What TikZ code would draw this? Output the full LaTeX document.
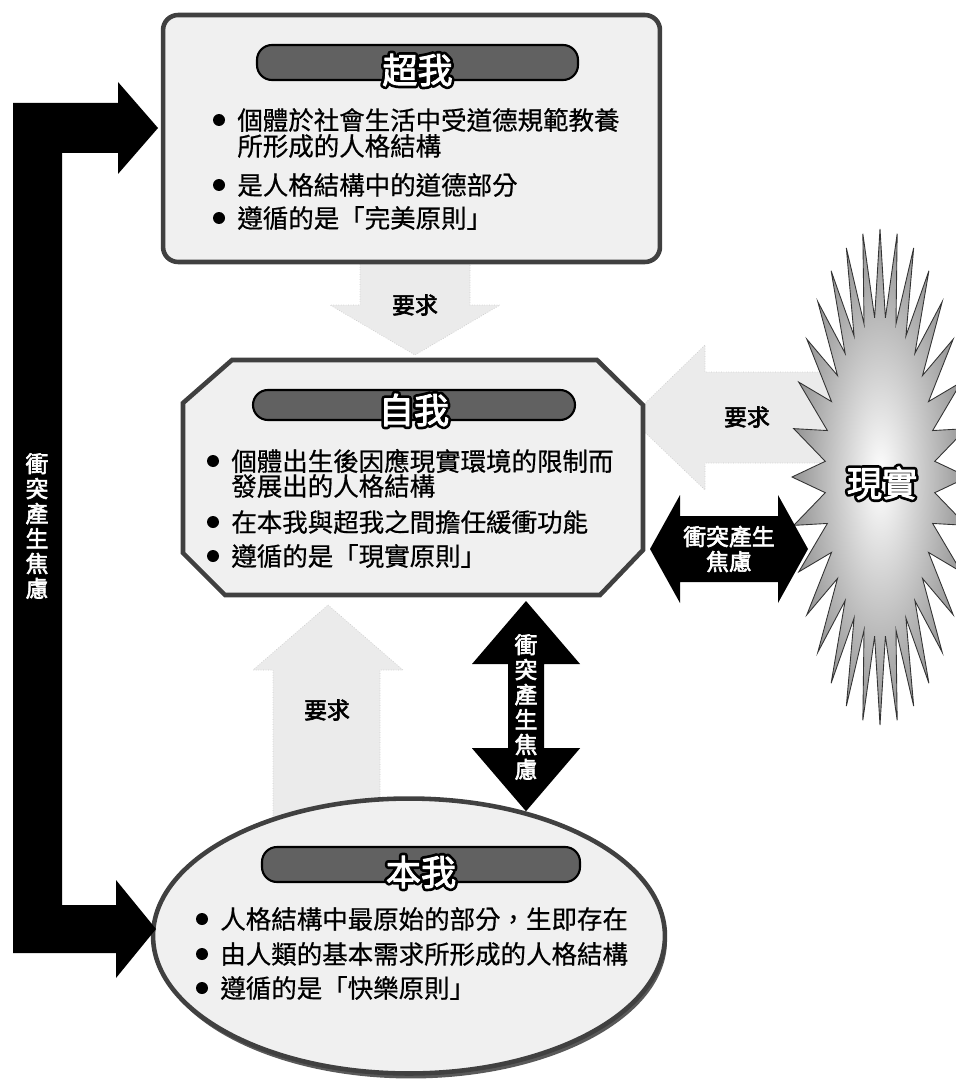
\documentclass[tikz,border=0pt]{standalone}
\usepackage{fontspec}
\usetikzlibrary{shapes.geometric, calc}
\setmainfont{Noto Sans CJK TC}
\newfontfamily\plainFont{Noto Sans CJK TC}
\newfontfamily\bodyFont[FakeBold=0.6]{Noto Sans CJK TC}
\newfontfamily\heavyFont[FakeBold=2.5]{Noto Sans CJK TC}
\definecolor{boxFill}{gray}{0.94}
\definecolor{barFill}{gray}{0.38}
\definecolor{faintFill}{gray}{0.92}
% fat black copy under, heavy white word over it
\newcommand*{\titleWord}[1]{\makebox[0pt][l]{\plainFont\special{pdf:literal direct 2 Tr 3.6 w 1 j 0 0 0 RG}#1\special{pdf:literal direct 0 Tr}}\textcolor{white}{#1}}
\newcommand*{\bulletLine}[4]{% name, x of dot, y, text
    \node[bulletdot] (#1-dot) at (#2,#3) {};
    \node[body] (#1) at (#2+18,#3) {#4};
}
\newcommand*{\moreLine}[4]{% name, x of dot, y, text (second line of an item, no dot)
    \node[body] (#1) at (#2+18,#3) {#4};
}
\newcommand*{\titleBar}[6]{% name, xstart, ystart, xend, yend, title
    \node[titlebar, minimum width={(#4-#2)*0.02cm}, minimum height={(#5-#3)*0.02cm}] (#1-bar) at ({(#2+#4)/2},{(#3+#5)/2}) {};
    \node[titleword] (#1) at ({(#2+#4)/2},{#5-10}) {\titleWord{#6}};
}
\tikzset{
    body/.style={anchor=west, inner sep=0pt, font=\bodyFont\fontsize{14.5}{16}\selectfont},
    bulletdot/.style={circle, fill=black, inner sep=0pt, minimum size=0.24cm},
    titlebar/.style={rectangle, fill=barFill, draw=black, line width=1.2pt, rounded corners=0.3cm, inner sep=0pt},
    titleword/.style={inner sep=0pt, font=\heavyFont\fontsize{20}{22}\selectfont},
    psyche/.style={fill=boxFill, draw=black!75, line width=2.6pt, inner sep=0pt},
    faint/.style={fill=faintFill, draw=gray!40, densely dotted},
    ask/.style={inner sep=0pt, font=\heavyFont\fontsize{13}{15}\selectfont},
    clash/.style={inner sep=0pt, text=white, align=center, font=\heavyFont\fontsize{13}{14.2}\selectfont},
    starburst/.style={inner color=white, outer color=gray!85, draw=black!80, line width=0.5pt},
}

\begin{document}
\begin{tikzpicture}[x=0.02cm, y=-0.02cm]
\useasboundingbox (0,0) rectangle (956,1081);

% faint "demand" arrows
\draw[faint] (360,262) -- (470,262) -- (470,305) -- (500,305) -- (415,355) -- (330,305) -- (360,305) -- cycle;
\draw[faint] (830,372) -- (705,372) -- (705,345) -- (630,418) -- (705,490) -- (705,463) -- (830,463) -- cycle;
\draw[faint] (328,605) -- (403,670) -- (380,670) -- (380,830) -- (273,830) -- (273,670) -- (253,670) -- cycle;

% superego, ego, id
\node[psyche, rectangle, rounded corners=0.3cm, minimum width=9.94cm, minimum height=4.94cm] (superego) at (411.5,138.5) {};
\draw[psyche] (232,360) -- (597,360) -- (643,405) -- (643,550) -- (600,595) -- (225,595) -- (183,553) -- (183,403) -- cycle;
\coordinate (ego-s) at (413,595);
\coordinate (ego-e) at (643,477.5);
\node[ellipse, fill=black!65, minimum width=10.24cm, minimum height=5.5cm] (id-shadow) at (411,941) {};
\node[psyche, ellipse, minimum width=10.24cm, minimum height=5.5cm] (id) at (409,936) {};

\titleBar{supTitle}{257}{45}{578}{80}{超我}
\titleBar{egoTitle}{253}{390}{575}{420}{自我}
\titleBar{idTitle}{262}{847}{580}{882}{本我}

\bulletLine{sup1}{219}{120}{個體於社會生活中受道德規範教養}
\moreLine{sup1b}{219}{146}{所形成的人格結構}
\bulletLine{sup2}{219}{185}{是人格結構中的道德部分}
\bulletLine{sup3}{219}{218}{遵循的是「完美原則」}

\bulletLine{ego1}{213}{461}{個體出生後因應現實環境的限制而}
\moreLine{ego1b}{213}{486}{發展出的人格結構}
\bulletLine{ego2}{213}{522}{在本我與超我之間擔任緩衝功能}
\bulletLine{ego3}{213}{556}{遵循的是「現實原則」}

\bulletLine{id1}{202}{919}{人格結構中最原始的部分，生即存在}
\bulletLine{id2}{202}{954}{由人類的基本需求所形成的人格結構}
\bulletLine{id3}{202}{988}{遵循的是「快樂原則」}

% reality
\begin{scope}[shift={(880,477)}]
    \shadedraw[starburst] (0:88 and 248) \foreach \a in {0,11.25,...,348.75} {-- ({\a+5.625}:55 and 160) -- ({\a+11.25}:88 and 248)} -- cycle;
\end{scope}
\node[titleword] (real) at (882,483) {\titleWord{現實}};

% conflict arrows
\coordinate (conflictR-c) at (729,549);
\coordinate (conflictV-c) at (526,707);
\coordinate (hl) at ($(ego-e |- conflictR-c)+(7,0)$);
\coordinate (hr) at (808,549);
\coordinate (vt) at ($(conflictV-c |- ego-s)+(0,6)$);
\coordinate (vb) at (conflictV-c |- id.47);
\coordinate (supIn) at (158,128);
\coordinate (idIn) at (156,929);
\fill (hl) -- ++(30,-54) -- ++(0,21) -- ($(hr)+(-30,-33)$) -- ++(0,-21) -- (hr) -- ++(-30,54) -- ++(0,-21) -- ($(hl)+(30,33)$) -- ++(0,21) -- cycle;
\fill (vt) -- ++(54,63) -- ++(-36,0) -- ($(vb)+(18,-63)$) -- ++(36,0) -- (vb) -- ++(-54,-63) -- ++(36,0) -- ($(vt)+(-18,63)$) -- ++(-36,0) -- cycle;
\fill (supIn) -- ++(-40,-46) -- ++(0,21) -- (13,103) -- (13,953) -- ($(idIn)+(-40,24)$) -- ++(0,25) -- (idIn) -- ++(-40,-49) -- ++(0,25) -- (62,905) -- (62,153) -- ($(supIn)+(-40,25)$) -- ++(0,21) -- cycle;
\node[clash] (conflictR) at (conflictR-c) {衝突產生\\焦慮};
\node[clash] (conflictV) at (conflictV-c) {衝\\突\\產\\生\\焦\\慮};
\node[clash] (conflictL) at (37,526) {衝\\突\\產\\生\\焦\\慮};

% demand labels
\node[ask] (askS) at (415,305) {要求};
\node[ask] (askR) at (747,417) {要求};
\node[ask] (askI) at (327,710) {要求};
\end{tikzpicture}
\end{document}
